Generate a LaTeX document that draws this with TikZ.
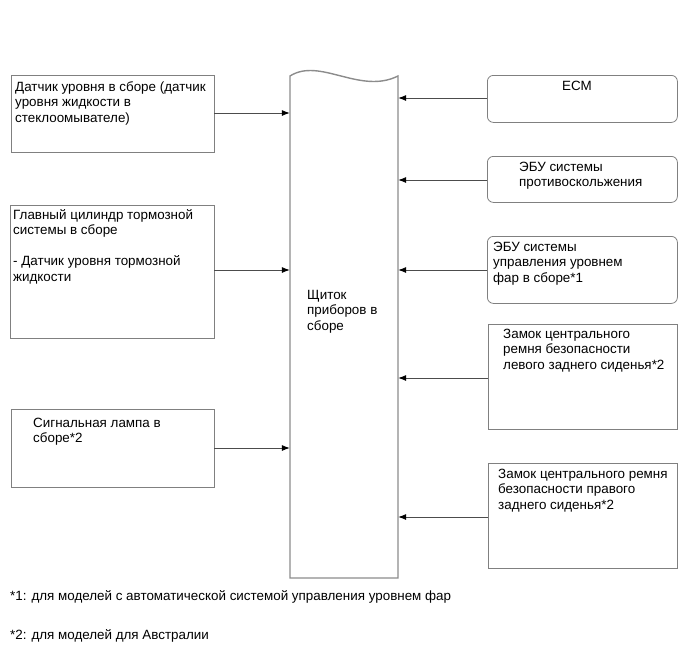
\documentclass[tikz,border=0pt]{standalone}
\usepackage{fontspec}
\setmainfont{Liberation Sans}
\usetikzlibrary{arrows.meta}
\newcommand{\mylines}[1]{\begin{tabular}[t]{@{}l@{}}#1\end{tabular}}
\begin{document}
\begin{tikzpicture}[x=1pt,y=-1pt,
  txt/.style={anchor=base west,inner sep=0pt,font=\fontsize{13.4}{15.5}\selectfont,text=black},
  sqbox/.style={draw=black!50,line width=0.8pt,rectangle,inner sep=0pt},
  rdbox/.style={draw=black!50,line width=0.8pt,rectangle,rounded corners=6pt,inner sep=0pt},
  conn/.style={draw=black!70,line width=0.8pt,-{Latex[length=8pt,width=6pt,color=black]}}]
\useasboundingbox (0,0) rectangle (690,659);
% centre box
\draw[black!45,line width=1.4pt] (290,578) -- (290,76) .. controls (320,57) and (360,95) .. (398,76) -- (398,578) -- cycle;
\node[inner sep=0pt,minimum width=108pt,minimum height=502pt] (ctr) at (344,327) {};
\node[txt] (ctrt) at (307,299) {\mylines{Щиток\\приборов в\\сборе}};
% left boxes
\node[sqbox,minimum width=203pt,minimum height=77pt,anchor=north west] (l1) at (11,75) {};
\node[txt] (l1t) at (15,91) {\mylines{Датчик уровня в сборе (датчик\\уровня жидкости в\\стеклоомывателе)}};
\node[sqbox,minimum width=204pt,minimum height=133pt,anchor=north west] (l2) at (10,205) {};
\node[txt] (l2t) at (13,219) {\mylines{Главный цилиндр тормозной\\системы в сборе\\ \\- Датчик уровня тормозной\\жидкости}};
\node[sqbox,minimum width=203pt,minimum height=78pt,anchor=north west] (l3) at (11,409) {};
\node[txt] (l3t) at (33,427) {\mylines{Сигнальная лампа в\\сборе*2}};
% right boxes
\node[rdbox,minimum width=190pt,minimum height=47pt,anchor=north west] (r1) at (487,75) {};
\node[txt,anchor=base] (r1t) at (577,90) {ECM};
\node[rdbox,minimum width=190pt,minimum height=46pt,anchor=north west] (r2) at (487,156) {};
\node[txt] (r2t) at (519,171) {\mylines{ЭБУ системы\\противоскольжения}};
\node[rdbox,minimum width=190pt,minimum height=67pt,anchor=north west] (r3) at (487,236) {};
\node[txt] (r3t) at (493,251) {\mylines{ЭБУ системы\\управления уровнем\\фар в сборе*1}};
\node[sqbox,minimum width=189pt,minimum height=105pt,anchor=north west] (r4) at (488,324) {};
\node[txt] (r4t) at (503,338) {\mylines{Замок центрального\\ремня безопасности\\левого заднего сиденья*2}};
\node[sqbox,minimum width=189pt,minimum height=105pt,anchor=north west] (r5) at (488,463) {};
\node[txt] (r5t) at (498,478) {\mylines{Замок центрального ремня\\безопасности правого\\заднего сиденья*2}};
% connectors
\coordinate (a1) at (214,113);
\coordinate (a2) at (214,270);
\coordinate (a3) at (214,448);
\draw[conn] (a1) -- (a1 -| ctr.west);
\draw[conn] (a2) -- (a2 -| ctr.west);
\draw[conn] (a3) -- (a3 -| ctr.west);
\coordinate (b1) at (487,98);
\coordinate (b2) at (487,180);
\coordinate (b3) at (487,270);
\coordinate (b4) at (488,378);
\coordinate (b5) at (488,517);
\draw[conn] (b1) -- (b1 -| ctr.east);
\draw[conn] (b2) -- (b2 -| ctr.east);
\draw[conn] (b3) -- (b3 -| ctr.east);
\draw[conn] (b4) -- (b4 -| ctr.east);
\draw[conn] (b5) -- (b5 -| ctr.east);
% footnotes
\node[txt] (f1) at (10,600) {*1: для моделей с автоматической системой управления уровнем фар};
\node[txt] (f2) at (10,639) {*2: для моделей для Австралии};
\end{tikzpicture}
\end{document}
